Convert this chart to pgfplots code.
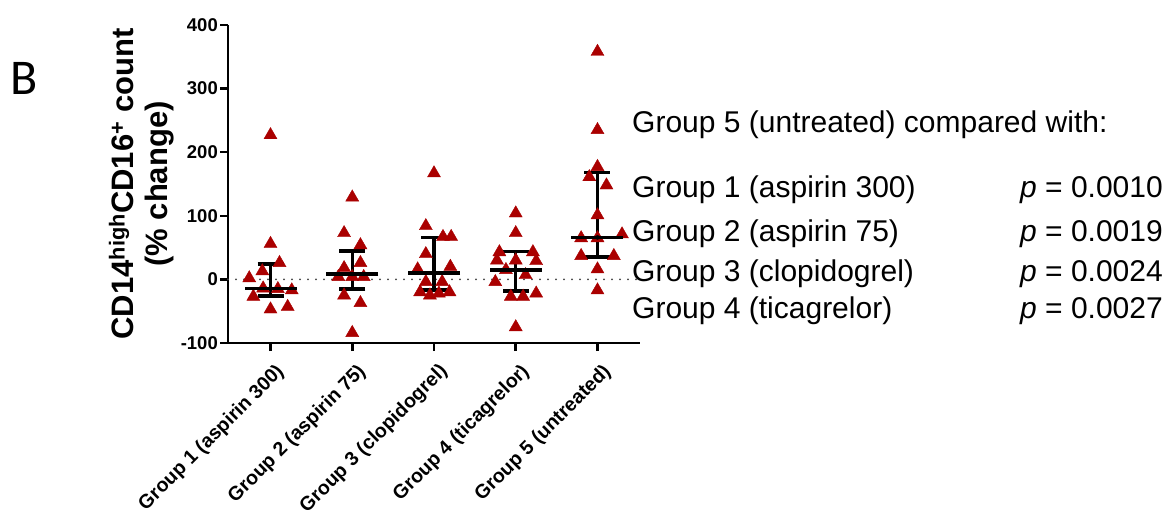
\documentclass[border=0pt]{standalone}
\usepackage{pgfplots}
\pgfplotsset{compat=1.18}
\usepackage{fontspec}
\setmainfont{Liberation Sans}
\newfontfamily\bfam{Carlito}
\definecolor{mk}{RGB}{170,0,0}

\begin{document}
\begin{tikzpicture}[x=1pt,y=1pt]
\path[use as bounding box] (0,0) rectangle (1168,-519);
\node[anchor=base west, inner sep=0pt, font=\bfam\fontsize{50}{50}\selectfont] at (10,-95) {B};
\begin{axis}[
  at={(228pt,-343pt)}, anchor=south west,
  scale only axis, width=412pt, height=318pt,
  xmin=0.48, xmax=5.52, ymin=-100, ymax=400,
  axis x line*=bottom, axis y line*=left,
  axis line style={line width=2.5pt, -},
  tick style={line width=2.5pt, black},
  major tick length=8pt,
  tick align=outside,
  xtick={1,2,3,4,5},
  xticklabels={Group 1 (aspirin 300), Group 2 (aspirin 75), Group 3 (clopidogrel), Group 4 (ticagrelor), Group 5 (untreated)},
  xticklabel style={rotate=45, anchor=east, font=\bfseries\fontsize{19.6}{19.6}\selectfont, inner sep=1pt, yshift=-20pt, xshift=-4pt},
  ytick={-100,0,100,200,300,400},
  yticklabels={-100,0,100,200,300,400},
  yticklabel style={font=\bfseries\fontsize{18.5}{18.5}\selectfont, inner sep=2pt},
  ylabel={CD14\textsuperscript{high}CD16\textsuperscript{+} count\\(\% change)},
  every axis y label/.style={at={(axis description cs:-0.21,0.5)}, rotate=90, anchor=center, align=center, font=\bfseries\fontsize{31}{34}\selectfont},
  clip=false,
]
\addplot[black!75, line width=2pt, line cap=round, dash pattern=on 0pt off 8pt] coordinates {(0.48,0) (5.52,0)};
\addplot[only marks, mark=triangle*, mark size=7.5pt, mark options={fill=mk, draw=mk}] table {
x y
1.00 227
1.00 56
1.11 26
0.90 13
0.74 2
0.91 -14
1.09 -15
1.26 -17
0.79 -27
1.00 -47
1.21 -43
2.00 129
1.90 73
2.10 54
2.10 26
1.90 18
1.83 4
2.00 4
2.14 4
1.90 -25
2.10 -37
2.00 -84
3.00 167
2.90 84
3.11 67
3.21 67
2.90 40
2.80 16
3.20 20
2.90 -4
3.10 -4
2.83 -20
3.19 -20
2.95 -25
3.06 -22
4.00 104
4.00 73
3.80 43
4.21 43
3.77 30
4.25 29
4.00 30
3.88 15
4.12 7
3.75 -4
3.94 -27
4.09 -27
4.25 -22
4.00 -75
5.00 358
5.00 235
5.00 177
4.90 161
5.11 148
5.00 101
4.80 65
5.00 65
5.30 71
4.80 37
5.20 37
5.00 16
5.00 -17
};
\addplot[black, only marks, mark=none, error bars/.cd, y dir=both, y explicit,
  error bar style={line width=3.5pt, solid, black},
  error mark options={line width=3.5pt, solid, black, mark size=13pt, rotate=90}] coordinates {
(1,-14) += (0,38) -= (0,12)
(2,8.5) += (0,36) -= (0,23.5)
(3,10) += (0,56) -= (0,27)
(4,15) += (0,29) -= (0,33)
(5,66) += (0,102) -= (0,31)
};
\addplot[only marks, mark=-, mark size=26pt, mark options={line width=3.5pt, black}] coordinates {(1,-14) (2,8.5) (3,10) (4,15) (5,66)};
\end{axis}
\begin{scope}[every node/.style={anchor=base west, inner sep=0pt, font=\fontsize{30}{30}\selectfont}]
\node at (632,-132) {Group 5 (untreated) compared with:};
\node at (632,-197) {Group 1 (aspirin 300)};
\node at (632,-241) {Group 2 (aspirin 75)};
\node at (632,-281) {Group 3 (clopidogrel)};
\node at (632,-318) {Group 4 (ticagrelor)};
\end{scope}
\begin{scope}[every node/.style={anchor=base east, inner sep=0pt, font=\fontsize{30}{30}\selectfont}]
\node at (1163,-197) {\textit{p} = 0.0010};
\node at (1163,-241) {\textit{p} = 0.0019};
\node at (1163,-281) {\textit{p} = 0.0024};
\node at (1163,-318) {\textit{p} = 0.0027};
\end{scope}
\end{tikzpicture}
\end{document}
